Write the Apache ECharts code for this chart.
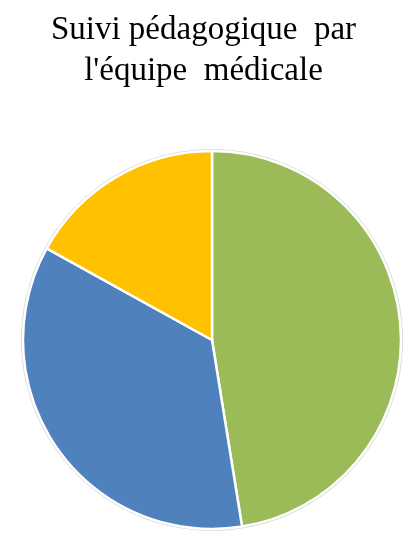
<!DOCTYPE html>
<html>
<head>
<meta charset="utf-8">
<script src="https://cdn.jsdelivr.net/npm/echarts@6/dist/echarts.min.js"></script>
<style>html,body{margin:0;padding:0;background:#fff}#c{width:407px;height:533px}</style>
</head>
<body>
<div id="c"></div>
<script>
const titleText = "Suivi pédagogique  par\nl'équipe  médicale";
const categories = ["Catégorie 1", "Catégorie 2", "Catégorie 3"];
const values = [28, 21, 10];
const colors = ["#9BBB59", "#4F81BD", "#FFC000"];

const chart = echarts.init(document.getElementById('c'));
chart.setOption({
  animation: false,
  title: {
    text: titleText,
    left: 'center',
    top: 5,
    textStyle: {
      fontFamily: 'Liberation Serif',
      fontWeight: 'normal',
      fontSize: 33,
      lineHeight: 41,
      color: '#000'
    }
  },
  series: [
    {
      type: 'pie',
      silent: true,
      center: [212, 340],
      radius: [0, 191],
      data: [{value: 1}],
      itemStyle: {color: '#d9d9d9'},
      label: {show: false},
      z: 1
    },
    {
      type: 'pie',
      center: [212, 340],
      radius: [0, 189],
      startAngle: 90,
      clockwise: true,
      data: categories.map((c, i) => ({name: c, value: values[i], itemStyle: {color: colors[i]}})),
      itemStyle: {borderColor: '#fff', borderWidth: 2.5},
      label: {show: false},
      labelLine: {show: false},
      z: 2
    }
  ]
});
</script>
</body>
</html>
